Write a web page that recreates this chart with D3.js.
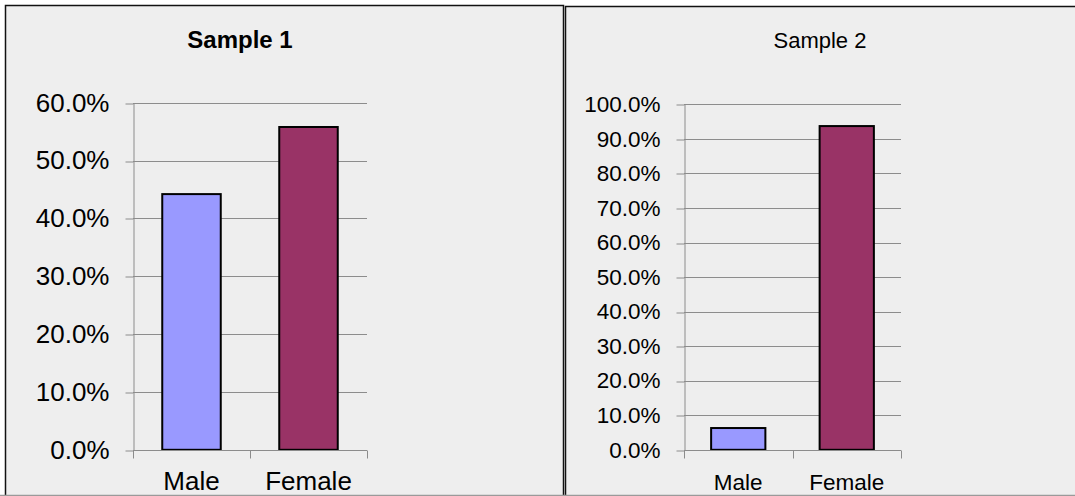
<!DOCTYPE html>
<html>
<head>
<meta charset="utf-8">
<script src="https://cdn.jsdelivr.net/npm/d3@7"></script>
<style>
  html, body { margin: 0; padding: 0; background: #ffffff; }
  svg { display: block; font-family: "Liberation Sans", Arial, sans-serif; }
</style>
</head>
<body>
<svg id="chart" width="1075" height="496"></svg>
<script>
// Gender split for the two samples (share of respondents)
const categories = ["Male", "Female"];
const sample1Values = [0.442, 0.558];
const sample2Values = [0.063, 0.937];
const sample1Ticks = [0, 0.1, 0.2, 0.3, 0.4, 0.5, 0.6];
const sample2Ticks = [0, 0.1, 0.2, 0.3, 0.4, 0.5, 0.6, 0.7, 0.8, 0.9, 1.0];
const titles = ["Sample 1", "Sample 2"];
const barColors = ["#9999ff", "#993366"];

const svg = d3.select("#chart");
const fmt = d3.format(".1%");

// Panel frames
svg.append("rect").attr("x", 565.5).attr("y", 6.5).attr("width", 520).attr("height", 500)
  .attr("fill", "#eeeeee").attr("stroke", "#111").attr("stroke-width", 1.5);
svg.append("rect").attr("x", 5.5).attr("y", 5.5).attr("width", 558).attr("height", 500)
  .attr("fill", "#eeeeee").attr("stroke", "#111").attr("stroke-width", 1.5);
svg.append("line").attr("x1", 0).attr("x2", 1075).attr("y1", 495.5).attr("y2", 495.5)
  .attr("stroke", "#9a9a9a").attr("stroke-width", 1.5);

const panels = [
  { title: titles[0], bold: true, titleX: 240, titleSize: 24,
    values: sample1Values, ticks: sample1Ticks, max: 0.6,
    x0: 133, x1: 367, yTop: 102.7, yBottom: 449.8, fontSize: 26 },
  { title: titles[1], bold: false, titleX: 820, titleSize: 22,
    values: sample2Values, ticks: sample2Ticks, max: 1.0,
    x0: 684, x1: 901, yTop: 104.3, yBottom: 449.8, fontSize: 22.5 }
];

panels.forEach(p => {
  const g = svg.append("g");

  const x = d3.scaleBand().domain(categories).range([p.x0, p.x1])
    .paddingInner(0.5).paddingOuter(0.25);
  const y = d3.scaleLinear().domain([0, p.max]).range([p.yBottom, p.yTop]);

  // Title
  g.append("text").attr("x", p.titleX).attr("y", 48)
    .attr("text-anchor", "middle")
    .attr("font-size", p.titleSize)
    .attr("font-weight", p.bold ? "bold" : "normal")
    .attr("fill", "#000")
    .text(p.title);

  // Horizontal gridlines
  g.selectAll("line.grid").data(p.ticks).join("line")
    .attr("class", "grid")
    .attr("x1", p.x0).attr("x2", p.x1)
    .attr("y1", d => Math.round(y(d)) + 0.5).attr("y2", d => Math.round(y(d)) + 0.5)
    .attr("stroke", "#8c8c8c").attr("stroke-width", 1);

  // Y axis with percentage labels
  const yAxis = d3.axisLeft(y).tickValues(p.ticks).tickFormat(fmt)
    .tickSizeInner(8).tickSizeOuter(0).tickPadding(16);
  const ya = g.append("g").attr("transform", `translate(${p.x0 + 0.5},0)`).call(yAxis);
  ya.select(".domain").attr("stroke", "#8c8c8c");
  ya.selectAll(".tick line").attr("stroke", "#8c8c8c")
    .attr("transform", function(d) { return `translate(0,${Math.round(y(d)) + 0.5 - y(d)})`; });
  ya.selectAll(".tick text").attr("font-size", p.fontSize)
    .attr("font-family", "'Liberation Sans', Arial, sans-serif").attr("fill", "#000");

  // Bars
  g.selectAll("rect.bar").data(p.values).join("rect")
    .attr("class", "bar")
    .attr("x", (d, i) => x(categories[i]))
    .attr("width", x.bandwidth())
    .attr("y", d => y(d))
    .attr("height", d => y(0) - y(d))
    .attr("fill", (d, i) => barColors[i])
    .attr("stroke", "#000").attr("stroke-width", 2);

  // X axis line and category boundary ticks
  const base = Math.round(y(0)) + 0.5;
  g.append("line").attr("x1", p.x0).attr("x2", p.x1).attr("y1", base).attr("y2", base)
    .attr("stroke", "#8c8c8c");
  const bounds = [p.x0, p.x0 + x.step(), p.x1];
  g.selectAll("line.xt").data(bounds).join("line")
    .attr("class", "xt")
    .attr("x1", d => Math.round(d) + 0.5).attr("x2", d => Math.round(d) + 0.5)
    .attr("y1", base).attr("y2", base + 8)
    .attr("stroke", "#8c8c8c");

  // Category labels
  g.selectAll("text.cat").data(categories).join("text")
    .attr("class", "cat")
    .attr("x", d => x(d) + x.bandwidth() / 2)
    .attr("y", 490)
    .attr("text-anchor", "middle")
    .attr("font-size", p.fontSize)
    .attr("fill", "#000")
    .text(d => d);
});
</script>
</body>
</html>
